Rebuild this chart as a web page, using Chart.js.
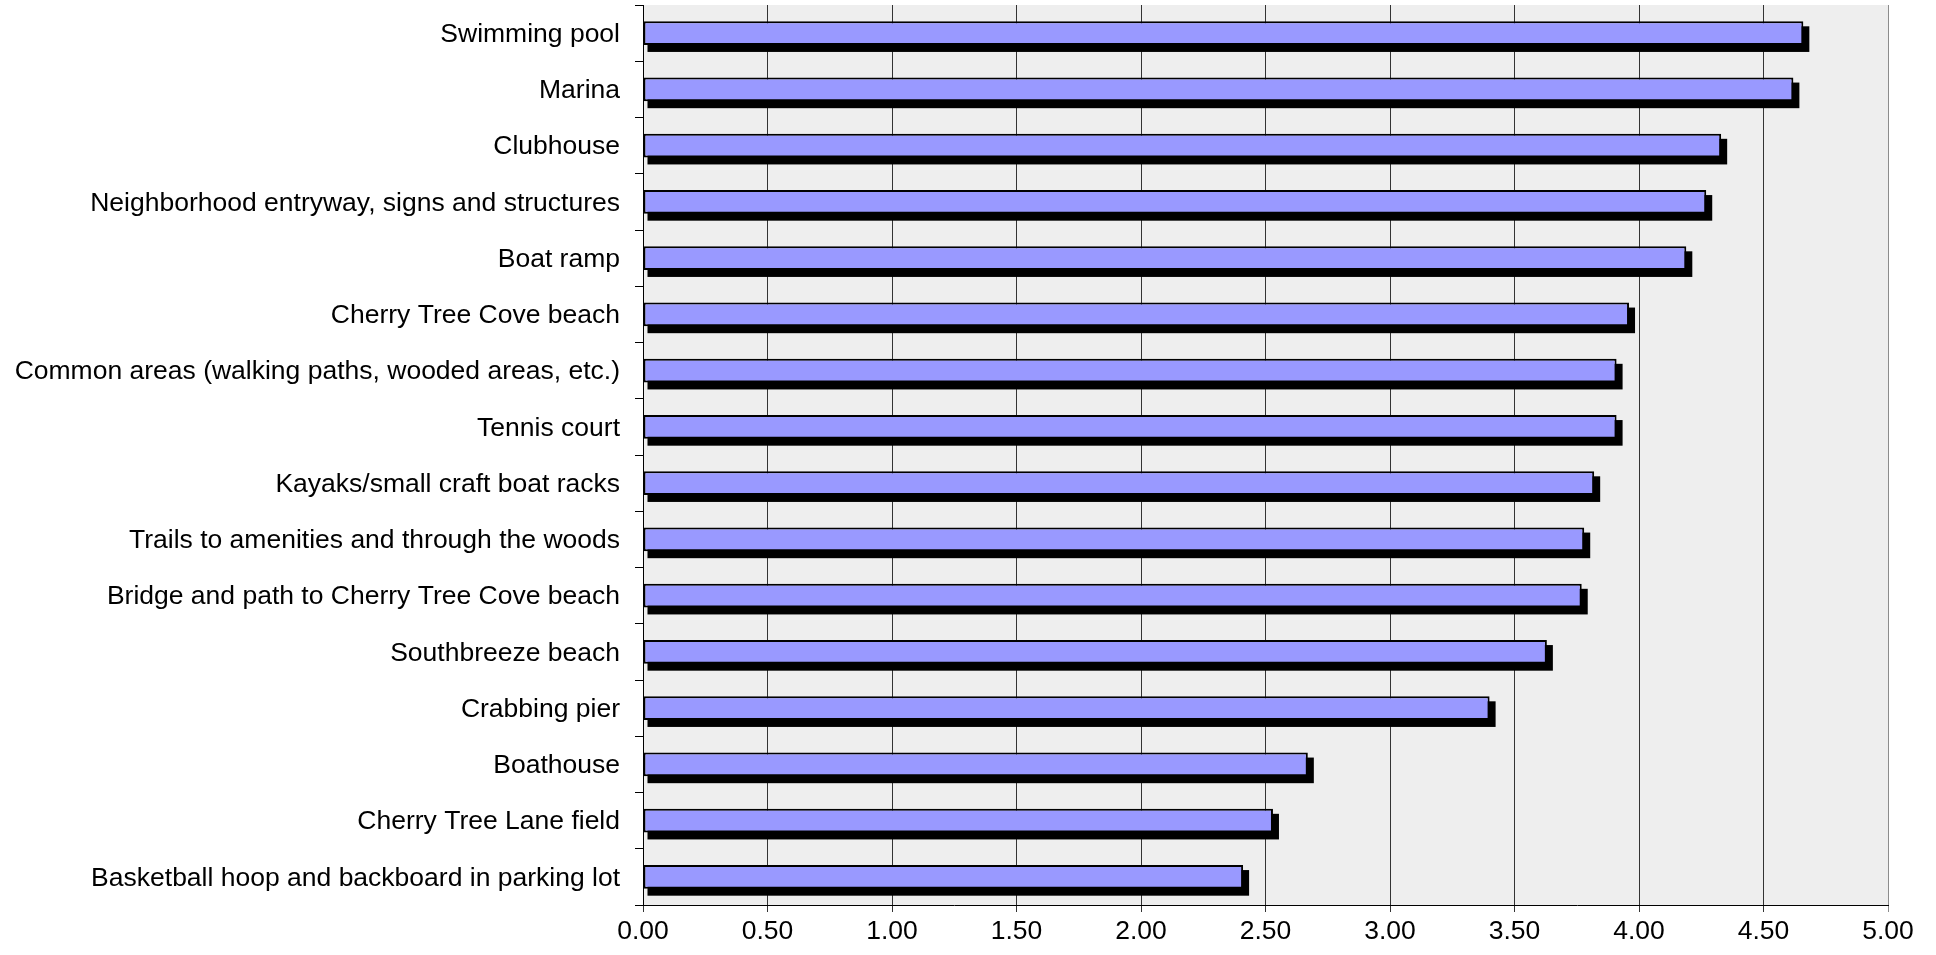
<!DOCTYPE html>
<html>
<head>
<meta charset="utf-8">
<title>Amenity ratings</title>
<script src="https://cdn.jsdelivr.net/npm/chart.js@4.4.1/dist/chart.umd.min.js"></script>
<style>
  html, body { margin: 0; padding: 0; background: #ffffff; }
  #wrap { width: 1936px; height: 955px; position: relative; }
</style>
</head>
<body>
<div id="wrap"><canvas id="chart" width="1936" height="955"></canvas></div>
<script>
// Amenities, ordered from highest to lowest average rating
const categories = [
  'Swimming pool',
  'Marina',
  'Clubhouse',
  'Neighborhood entryway, signs and structures',
  'Boat ramp',
  'Cherry Tree Cove beach',
  'Common areas (walking paths, wooded areas, etc.)',
  'Tennis court',
  'Kayaks/small craft boat racks',
  'Trails to amenities and through the woods',
  'Bridge and path to Cherry Tree Cove beach',
  'Southbreeze beach',
  'Crabbing pier',
  'Boathouse',
  'Cherry Tree Lane field',
  'Basketball hoop and backboard in parking lot'
];

// Average rating for each amenity
const ratings = [4.66, 4.62, 4.33, 4.27, 4.19, 3.96, 3.91, 3.91, 3.82, 3.78, 3.77, 3.63, 3.40, 2.67, 2.53, 2.41];

// Value axis labels
const xTickLabels = ['0.00', '0.50', '1.00', '1.50', '2.00', '2.50', '3.00', '3.50', '4.00', '4.50', '5.00'];

const labelFont = { family: "'Liberation Sans', Arial, sans-serif", size: 26.5 };

// Grey plot area behind the bars
const plotBackground = {
  id: 'plotBackground',
  beforeDraw(chart) {
    const { ctx, chartArea: a } = chart;
    ctx.save();
    ctx.fillStyle = '#ffffff';
    ctx.fillRect(0, 0, chart.width, chart.height);
    ctx.fillStyle = '#eeeeee';
    ctx.fillRect(a.left, a.top, a.right - a.left, a.bottom - a.top);
    ctx.restore();
  }
};

// Solid black drop shadow offset down and to the right of every bar
const barShadow = {
  id: 'barShadow',
  beforeDatasetsDraw(chart) {
    const { ctx } = chart;
    const meta = chart.getDatasetMeta(0);
    ctx.save();
    ctx.fillStyle = '#000000';
    meta.data.forEach(el => {
      const p = el.getProps(['x', 'y', 'base', 'height'], true);
      const top = p.y - p.height / 2;
      ctx.fillRect(p.base + 4, top + 5, (p.x + 6) - (p.base + 4), p.height + 2);
    });
    ctx.restore();
  }
};

// Axes keep no extra room for overhanging labels
function noEdgePadding(scale) {
  scale.paddingTop = 0;
  scale.paddingBottom = 0;
  scale.paddingLeft = 0;
  scale.paddingRight = 0;
}

new Chart(document.getElementById('chart'), {
  type: 'bar',
  data: {
    labels: categories,
    datasets: [{
      data: ratings,
      backgroundColor: '#9999ff',
      borderColor: '#000000',
      borderWidth: 2,
      borderSkipped: false,
      barPercentage: 0.42,
      categoryPercentage: 1.0
    }]
  },
  options: {
    indexAxis: 'y',
    responsive: false,
    animation: false,
    layout: { padding: { top: 5, right: 48, bottom: 0, left: 0 } },
    plugins: {
      legend: { display: false },
      tooltip: { enabled: false }
    },
    scales: {
      x: {
        min: 0,
        max: 5,
        afterFit(scale) { scale.height = 50; noEdgePadding(scale); },
        ticks: {
          stepSize: 0.5,
          autoSkip: false,
          maxRotation: 0,
          padding: 4,
          color: '#000000',
          font: labelFont,
          callback: (value, index) => xTickLabels[index]
        },
        grid: {
          color: ctx => (ctx.index === xTickLabels.length - 1 ? '#8c8c8c' : '#333333'),
          lineWidth: 1,
          tickLength: 7,
          drawTicks: true
        },
        border: { display: true, color: '#000000', width: 1 }
      },
      y: {
        afterFit(scale) { scale.width = 643; noEdgePadding(scale); },
        ticks: {
          autoSkip: false,
          padding: 15,
          labelOffset: 1.5,
          color: '#000000',
          font: labelFont
        },
        grid: {
          drawOnChartArea: false,
          drawTicks: true,
          tickLength: 8,
          color: '#000000',
          lineWidth: 1
        },
        border: { display: true, color: '#000000', width: 1 }
      }
    }
  },
  plugins: [plotBackground, barShadow]
});
</script>
</body>
</html>
